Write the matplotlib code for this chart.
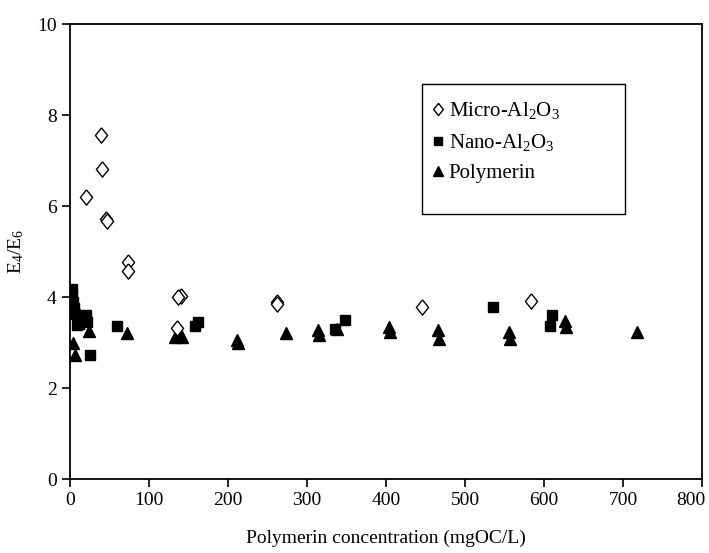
import matplotlib
matplotlib.use("Agg")
import matplotlib.pyplot as plt
from matplotlib.patches import Rectangle
from matplotlib.transforms import ScaledTranslation

plt.rcParams['font.family'] = ['Liberation Serif', 'DejaVu Serif']
plt.rcParams['mathtext.fontset'] = 'custom'
plt.rcParams['mathtext.rm'] = 'Liberation Serif'
plt.rcParams['mathtext.it'] = 'Liberation Serif:italic'

# ---- data ----
micro_x = [39, 40, 20, 46, 47, 73, 73, 140, 137, 135, 262, 262, 446, 584]
micro_y = [7.56, 6.82, 6.20, 5.72, 5.68, 4.77, 4.58, 4.02, 4.00, 3.32, 3.88, 3.85, 3.79, 3.92]

nano_x = [2, 3, 4, 5, 6, 9, 12, 20, 21, 25, 59, 158, 162, 336, 348, 535, 608, 610]
nano_y = [4.17, 4.05, 3.90, 3.75, 3.62, 3.38, 3.40, 3.60, 3.45, 2.72, 3.37, 3.36, 3.46, 3.30, 3.50, 3.78, 3.37, 3.60]

poly_x = [4, 6, 24, 72, 133, 138, 142, 212, 213, 273, 314, 315, 338, 404, 405,
          466, 467, 556, 557, 627, 628, 718]
poly_y = [3.00, 2.72, 3.26, 3.20, 3.12, 3.18, 3.12, 3.05, 2.99, 3.20, 3.27, 3.17, 3.30, 3.33, 3.22,
          3.27, 3.08, 3.22, 3.07, 3.47, 3.33, 3.22]

fig = plt.figure(figsize=(7.09, 5.53), dpi=100)
ax = fig.add_axes([0.0987, 0.1338, 0.8915, 0.8228])

diamond = [(0, 1), (0.8, 0), (0, -1), (-0.8, 0), (0, 1)]
ax.plot(micro_x, micro_y, linestyle='none', marker=diamond, markersize=11,
        markerfacecolor='white', markeredgecolor='black', markeredgewidth=1.0,
        label='Micro-Al$_2$O$_3$', zorder=3)
ax.plot(nano_x, nano_y, linestyle='none', marker='s', markersize=7.5,
        color='black', label='Nano-Al$_2$O$_3$', zorder=2)
ax.plot(poly_x, poly_y, linestyle='none', marker='^', markersize=8.5,
        color='black', label='Polymerin', zorder=2)

ax.set_xlim(0, 800)
ax.set_ylim(0, 10)
ax.set_xticks(range(0, 801, 100))
ax.set_yticks(range(0, 11, 2))
ax.tick_params(axis='both', direction='out', length=6, width=1.2,
               labelsize=14, right=False, top=False)
for s in ax.spines.values():
    s.set_linewidth(1.3)

# last x label sits a bit left so it fits in the picture
lab = ax.get_xticklabels()[-1]
lab.set_transform(lab.get_transform() + ScaledTranslation(-0.11, 0, fig.dpi_scale_trans))

ax.set_xlabel('Polymerin concentration (mgOC/L)', fontsize=14, labelpad=15)
ax.set_ylabel('E$_4$/E$_6$', fontsize=14, labelpad=8)

# legend box drawn separately (taller than its entries, like the original)
ax.add_patch(Rectangle((0.557, 0.582), 0.321, 0.286, transform=ax.transAxes,
                       facecolor='white', edgecolor='black', linewidth=1.0, zorder=4))
leg = ax.legend(loc='upper left', bbox_to_anchor=(0.573, 0.832), fontsize=15,
                frameon=False, handlelength=0.6, handletextpad=0.2, borderpad=0,
                labelspacing=0.5, borderaxespad=0, markerscale=0.8)
leg.set_zorder(5)

fig.savefig('out.png', dpi=100)
